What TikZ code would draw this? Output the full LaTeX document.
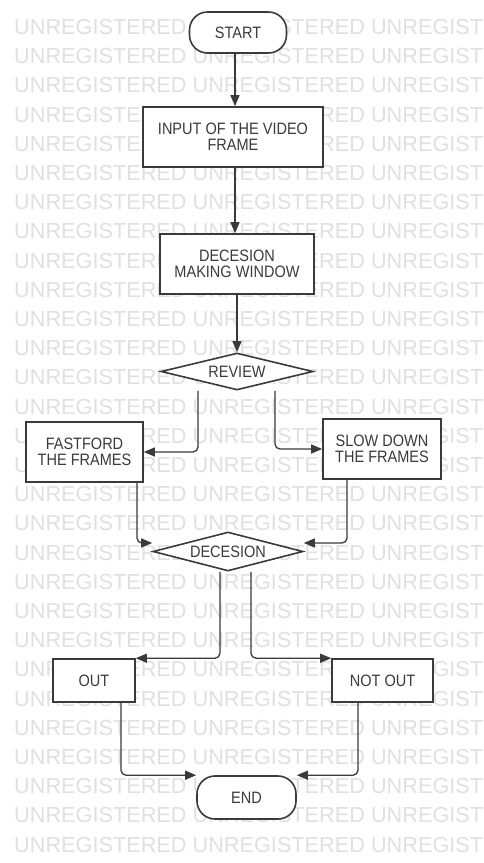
\documentclass[tikz,border=0pt]{standalone}
\usepackage{fontspec}
\setmainfont{Liberation Sans}
\newfontfamily\lblfont[FakeStretch=0.88]{Liberation Sans}
\usetikzlibrary{shapes.geometric,arrows.meta}
\definecolor{ink}{HTML}{3A3A3A}
\definecolor{wm}{HTML}{E0E0E0}
\tikzset{
 box/.style={draw=ink, line width=1.6pt, fill=white, rectangle, inner sep=0pt, align=center, text=ink, font=\lblfont\fontsize{16.5}{16}\selectfont},
 pill/.style={box, rounded corners=18pt},
 decide/.style={box, diamond, aspect=4},
 conn/.style={draw=ink, line width=1.3pt, rounded corners=5pt, -{Triangle[length=11pt,width=9pt]}},
 wmark/.style={text=wm, font=\fontsize{21.7}{22}\selectfont, anchor=west, inner sep=0pt}
}
\begin{document}
\begin{tikzpicture}[x=1pt,y=-1pt]
\useasboundingbox[fill=white] (0,0) rectangle (484,863);
% watermark
\foreach \k in {0,...,28}
  \node[wmark] (wm\k) at (14,{27+29.2*\k}) {UNREGISTERED UNREGISTERED UNREGIST};
% nodes
\node[pill, minimum width=97pt, minimum height=41pt] (start) at (238,32.5) {START};
\node[box, minimum width=180pt, minimum height=60pt] (input) at (233,137) {INPUT OF THE VIDEO\\FRAME};
\node[box, minimum width=154pt, minimum height=60pt] (dmw) at (237,264) {DECESION\\MAKING WINDOW};
\node[decide, minimum width=152pt, minimum height=37pt] (review) at (237,371.5) {REVIEW};
\node[box, minimum width=117pt, minimum height=60pt] (fast) at (84.5,452) {FASTFORD\\THE FRAMES};
\node[box, minimum width=118pt, minimum height=60pt] (slow) at (382,449) {SLOW DOWN\\THE FRAMES};
\node[decide, minimum width=150pt, minimum height=39pt] (dec) at (228,551.5) {DECESION};
\node[box, minimum width=82pt, minimum height=43pt] (out) at (94,680.5) {OUT};
\node[box, minimum width=101pt, minimum height=43pt] (notout) at (382.5,680.5) {NOT OUT};
\node[pill, minimum width=99pt, minimum height=43pt] (end) at (246.5,797.5) {END};
% connectors
\draw[conn] ([xshift=-3pt]start.south) -- ([xshift=2pt]input.north);
\draw[conn] ([xshift=2pt]input.south) -- ([xshift=-2pt]dmw.north);
\draw[conn] (dmw.south) -- (review.north);
\draw[conn] ([xshift=-39pt]review.south) |- (fast.east);
\draw[conn] ([xshift=38pt]review.south) |- (slow.west);
\draw[conn] ([xshift=52.5pt]fast.south) |- ([yshift=8.5pt]dec.west);
\draw[conn] ([xshift=-35pt]slow.south) |- ([yshift=8.5pt]dec.east);
\draw[conn] ([xshift=-8pt]dec.south) |- (out.north east);
\draw[conn] ([xshift=23pt]dec.south) |- (notout.north west);
\draw[conn] ([xshift=27pt]out.south) |- (end.north west);
\draw[conn] ([xshift=-24.5pt]notout.south) |- (end.north east);
\end{tikzpicture}
\end{document}
